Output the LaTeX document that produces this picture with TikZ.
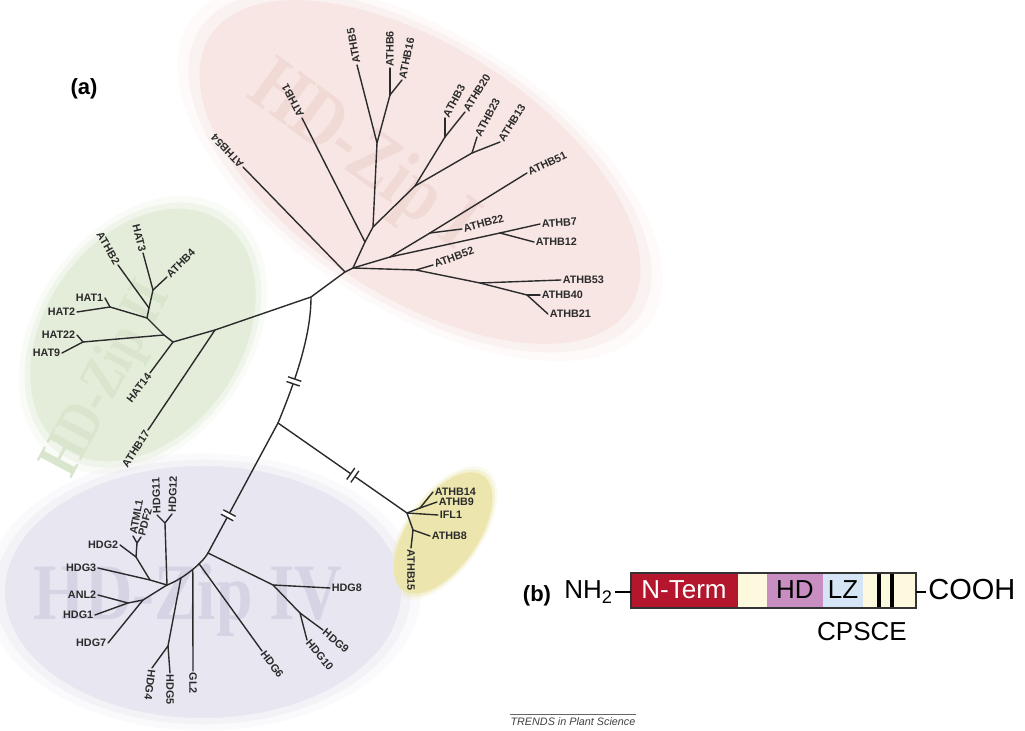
\documentclass[tikz,border=0pt]{standalone}
\usepackage{fontspec}
\setmainfont{Liberation Sans}
\newfontfamily\wmfont{Liberation Serif}
\definecolor{treecol}{HTML}{2B2B2B}
\definecolor{pinkbg}{HTML}{F7E6E3}
\definecolor{greenbg}{HTML}{E4EDDA}
\definecolor{purplebg}{HTML}{E8E6F1}
\definecolor{yellowbg}{HTML}{ECE6AE}
\definecolor{pinkwm}{HTML}{F1D9D5}
\definecolor{greenwm}{HTML}{DAE5CE}
\definecolor{purplewm}{HTML}{D6D3E4}
\definecolor{ntred}{HTML}{B3162D}
\definecolor{cream}{HTML}{FCF9DF}
\definecolor{hdmauve}{HTML}{C88EC2}
\definecolor{lzblue}{HTML}{D6E5F5}
\tikzset{
  branch/.style={draw=treecol, line width=0.7pt, line cap=round, line join=round},
  lbl/.style={font=\fontsize{5.4}{6}\selectfont\bfseries, inner sep=0.7pt, text=treecol},
  wm/.style={font=\wmfont\bfseries\fontsize{40}{40}\selectfont, inner sep=0},
  segtxt/.style={font=\fontsize{13}{15}\selectfont, anchor=base, inner sep=0},
}
% \leaf{parent}{x,y}{rotation}{anchor}{text}
\newcommand{\leaf}[5]{%
  \coordinate (c#5) at (#2);
  \node[lbl, anchor=#4, rotate=#3] (l#5) at (c#5) {#5};
  \draw[branch] (#1) -- (c#5);}
\newcommand{\brkmark}[2]{%
  \begin{scope}[shift={(#1)}, rotate=#2]
    \fill[white] (-2.5,-7) rectangle (2.5,7);
    \draw[branch, line cap=butt] (-2.5,-7) -- (-2.5,7) (2.5,-7) -- (2.5,7);
  \end{scope}}
\begin{document}
\begin{tikzpicture}[x={(0.5pt,0pt)}, y={(0pt,-0.5pt)}]
\useasboundingbox (0,0) rectangle (1025,731);
\fill[white] (0,0) rectangle (1025,731);

% ---------- coloured backgrounds ----------
\foreach \s/\o in {1.1/0.2,1.05/0.4,1/1}{
  \fill[pinkbg, fill opacity=\o, rotate around={-33:(420,172)}] (420,172) ellipse [x radius=250*\s, y radius=125*\s];
  \fill[greenbg, fill opacity=\o, rotate around={55:(143,335)}] (143,335) ellipse [x radius=138*\s, y radius=98*\s];
  \fill[purplebg, fill opacity=\o] (203,592) ellipse [x radius=198*\s, y radius=126*\s];
  \fill[yellowbg, fill opacity=\o, rotate around={55:(443,533)}] (443,533) ellipse [x radius=70*\s, y radius=35*\s];
}
% watermarks
\node[wm, text=pinkwm, rotate=-36, xscale=0.82] (wmI) at (362,158) {HD-Zip I};
\node[wm, text=greenwm, rotate=62, xscale=0.8, scale=0.75] (wmII) at (108,380) {HD-Zip II};
\node[wm, text=purplewm, xscale=0.82] (wmIV) at (188,600) {HD-Zip IV};

% ---------- backbone ----------
\coordinate (J1) at (311,297);
\coordinate (A0) at (345,272);
\coordinate (P0) at (353,268);
\coordinate (J2) at (215,330);
\coordinate (G0) at (173,342);
\coordinate (J3) at (278,423);
\coordinate (Q0) at (208,553);
\coordinate (Q3) at (167,585);
\coordinate (Y0) at (407,513);
\draw[branch] (G0) -- (J2) -- (J1) -- (A0) -- (P0);
\draw[branch] (J1) .. controls (311,330) and (300,370) .. (J3) coordinate[pos=0.72] (B1);
\draw[branch] (J3) -- (Q0) coordinate[pos=0.71] (B2);
\draw[branch] (J3) -- (Y0) coordinate[pos=0.58] (B3);
\draw[branch] (Q0) .. controls (202,564) and (181,580) .. (Q3)
   coordinate[pos=0.3] (Q1) coordinate[pos=0.45] (Qg) coordinate[pos=0.7] (Q2);
\brkmark{B1}{251}
\brkmark{B2}{242}
\brkmark{B3}{-35}

% ---------- HD-Zip II (green) ----------
\coordinate (G1) at (147,318);
\coordinate (G6) at (149,308);
\coordinate (G2) at (153,290);
\coordinate (G3) at (110,307);
\coordinate (G5) at (164,335);
\coordinate (G4) at (83,342);
\draw[branch] (G0) -- (G5) -- (G1) -- (G6) -- (G2);
\draw[branch] (G1) -- (G3);
\draw[branch] (G5) -- (G4);
\leaf{G0}{150,373}{53}{east}{HAT14}
\leaf{J2}{148,430}{57}{east}{ATHB17}
\leaf{G6}{118,265}{-60}{east}{ATHB2}
\leaf{G2}{143,253}{-76}{east}{HAT3}
\leaf{G2}{167,277}{45}{west}{ATHB4}
\leaf{G3}{105,298}{0}{east}{HAT1}
\leaf{G3}{77,312}{0}{east}{HAT2}
\leaf{G4}{77,335}{0}{east}{HAT22}
\leaf{G4}{62,353}{0}{east}{HAT9}

% ---------- HD-Zip I (pink) ----------
\coordinate (N1) at (365,242);
\coordinate (N1b) at (373,227);
\coordinate (N2) at (377,143);
\coordinate (N3) at (390,95);
\coordinate (N4) at (415,186);
\coordinate (N5a) at (445,137);
\coordinate (N5b) at (472,153);
\coordinate (N6) at (390,257);
\coordinate (N7) at (430,233);
\coordinate (N8) at (500,233);
\coordinate (N9) at (416,270);
\coordinate (N10) at (480,283);
\coordinate (N11) at (527,295);
\draw[branch] (P0) -- (N1) -- (N1b) -- (N2) -- (N3);
\draw[branch] (N1b) -- (N4) -- (N5a);
\draw[branch] (N4) -- (N5b);
\draw[branch] (P0) -- (N6) -- (N7);
\draw[branch] (N6) -- (N8);
\draw[branch] (P0) -- (N9) -- (N10) -- (N11);
\leaf{A0}{243,167}{134}{west}{ATHB54}
\leaf{N1}{302,118}{118}{west}{ATHB1}
\leaf{N2}{357,65}{100}{west}{ATHB5}
\leaf{N3}{390,68}{90}{west}{ATHB6}
\leaf{N3}{402,80}{78}{west}{ATHB16}
\leaf{N5a}{445,118}{62}{west}{ATHB3}
\leaf{N5a}{465,112}{58}{west}{ATHB20}
\leaf{N5b}{477,137}{62}{west}{ATHB23}
\leaf{N5b}{500,142}{58}{west}{ATHB13}
\leaf{N7}{527,173}{25}{west}{ATHB51}
\leaf{N7}{462,229}{15}{west}{ATHB22}
\leaf{N8}{540,224}{4}{west}{ATHB7}
\leaf{N8}{534,242}{0}{west}{ATHB12}
\leaf{N9}{433,265}{20}{west}{ATHB52}
\leaf{N10}{561,280}{0}{west}{ATHB53}
\leaf{N11}{540,295}{0}{west}{ATHB40}
\leaf{N11}{548,314}{0}{west}{ATHB21}

% ---------- HD-Zip III (yellow) ----------
\coordinate (Y1) at (420,508);
\coordinate (Y2) at (413,530);
\draw[branch] (Y0) -- (Y1);
\draw[branch] (Y0) -- (Y2);
\leaf{Y1}{433,492}{0}{west}{ATHB14}
\leaf{Y1}{437,502}{0}{west}{ATHB9}
\leaf{Y0}{438,515}{0}{west}{IFL1}
\leaf{Y2}{430,536}{0}{west}{ATHB8}
\leaf{Y2}{411,548}{-90}{west}{ATHB15}

% ---------- HD-Zip IV (purple) ----------
\coordinate (H8n) at (273,585);
\coordinate (H9n) at (300,613);
\draw[branch] (Q0) -- (H8n) -- (H9n);
\leaf{H8n}{330,588}{0}{west}{HDG8}
\leaf{H9n}{323,630}{-40}{west}{HDG9}
\leaf{H9n}{307,640}{-50}{west}{HDG10}
\leaf{Q1}{262,651}{-53}{west}{HDG6}
\leaf{Qg}{193,671}{-90}{west}{GL2}
\coordinate (H45) at (168,646);
\draw[branch] (Q2) -- (H45);
\leaf{H45}{152,668}{-97}{west}{HDG4}
\leaf{H45}{170,673}{-90}{west}{HDG5}
\coordinate (H11n) at (165,523);
\draw[branch] (Q3) -- (H11n);
\leaf{H11n}{157,515}{92}{west}{HDG11}
\leaf{H11n}{172,514}{88}{west}{HDG12}
\coordinate (L1) at (150,580);
\coordinate (L2) at (136,557);
\coordinate (L3) at (137,543);
\draw[branch] (Q3) -- (L1) -- (L2) -- (L3);
\leaf{L1}{98,568}{0}{east}{HDG3}
\leaf{L2}{120,545}{0}{east}{HDG2}
\leaf{L3}{133,536}{80}{west}{ATML1}
\leaf{L3}{141,537}{75}{west}{PDF2}
\coordinate (L4) at (143,600);
\coordinate (L5) at (128,603);
\draw[branch] (Q3) -- (L4) -- (L5);
\leaf{L5}{98,595}{0}{east}{ANL2}
\leaf{L5}{95,615}{0}{east}{HDG1}
\leaf{L4}{108,643}{0}{east}{HDG7}

% panel label
\node[font=\bfseries\fontsize{11}{13}\selectfont, inner sep=0] (alabel) at (84,89) {(a)};

% ---------- (b) domain diagram ----------
\node[font=\bfseries\fontsize{11}{13}\selectfont, inner sep=0] (blabel) at (537,596) {(b)};
\fill[ntred] (631,573) rectangle (738,608);
\fill[cream] (738,573) rectangle (767,608);
\fill[hdmauve] (767,573) rectangle (823,608);
\fill[lzblue] (823,573) rectangle (863,608);
\fill[cream] (863,573) rectangle (916,608);
\fill[black] (877,573) rectangle (880.5,608);
\fill[black] (890,573) rectangle (893.5,608);
\draw[line width=0.6pt, draw=black!80] (631,573) rectangle (916,608);
\coordinate (boxW) at (631,592);
\coordinate (boxE) at (916,592);
\node[segtxt, text=white] (nterm) at (684,599) {N-Term};
\node[segtxt] (hd) at (795,599) {HD};
\node[segtxt] (lz) at (843,599) {LZ};
\node[segtxt] (cpsce) at (862,641) {CPSCE};
\node[font=\fontsize{13}{15}\selectfont, anchor=base west, inner sep=0] (nh2) at (564,599) {NH\textsubscript{2}};
\node[font=\fontsize{14.5}{16}\selectfont, anchor=base west, inner sep=0] (cooh) at (928,600) {COOH};
\draw[line width=0.6pt] ([xshift=1pt]nh2.east |- boxW) -- (boxW);
\draw[line width=0.6pt] (boxE) -- ([xshift=-1pt]cooh.west |- boxE);

% ---------- credit ----------
\coordinate (cr1) at (510,714);
\coordinate (cr2) at (636,714);
\draw[line width=0.4pt, draw=black!60] (cr1) -- (cr2);
\node[font=\itshape\fontsize{5.4}{6}\selectfont, text=black!75, anchor=base, inner sep=0] (credit) at (573,726) {TRENDS in Plant Science};
\end{tikzpicture}
\end{document}
